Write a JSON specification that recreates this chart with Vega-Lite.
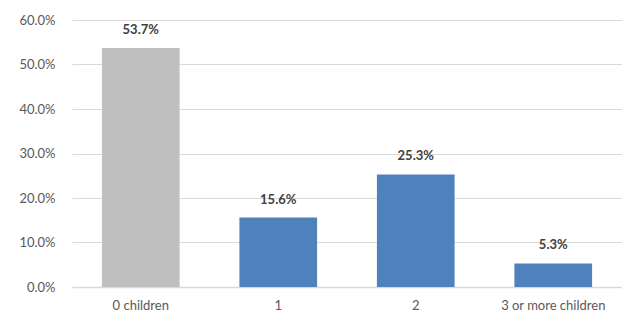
{
  "$schema": "https://vega.github.io/schema/vega-lite/v6.json",
  "width": 550,
  "height": 267,
  "autosize": {"type": "none"},
  "padding": {"left": 72, "top": 20, "right": 0, "bottom": 33},
  "background": "white",
  "config": {
    "view": {"stroke": null},
    "font": "Lato",
    "axis": {"labelFont": "Lato", "labelColor": "#595959", "labelFontSize": 13, "ticks": false, "gridColor": "#D9D9D9", "domainColor": "#D9D9D9"}
  },
  "data": {
    "values": [
      {"category": "0 children", "share": 0.537, "group": "none"},
      {"category": "1", "share": 0.156, "group": "some"},
      {"category": "2", "share": 0.253, "group": "some"},
      {"category": "3 or more children", "share": 0.053, "group": "some"}
    ]
  },
  "encoding": {
    "x": {
      "field": "category", "type": "nominal", "sort": null,
      "scale": {"paddingInner": 0.435, "paddingOuter": 0.2175},
      "axis": {"title": null, "labelAngle": 0, "labelPadding": 12, "domainWidth": 1.5, "grid": false}
    },
    "y": {
      "field": "share", "type": "quantitative",
      "scale": {"domain": [0, 0.6]},
      "axis": {"title": null, "format": ".1%", "values": [0, 0.1, 0.2, 0.3, 0.4, 0.5, 0.6], "domain": false, "labelPadding": 17, "gridWidth": 1}
    }
  },
  "layer": [
    {
      "mark": {"type": "bar"},
      "encoding": {
        "color": {"field": "group", "type": "nominal", "scale": {"domain": ["none", "some"], "range": ["#BFBFBF", "#4F81BD"]}, "legend": null}
      }
    },
    {
      "mark": {"type": "text", "dy": -11, "baseline": "bottom", "fontWeight": "bold", "fontSize": 13, "color": "#404040", "font": "Lato"},
      "encoding": {
        "text": {"field": "share", "type": "quantitative", "format": ".1%"}
      }
    }
  ]
}
